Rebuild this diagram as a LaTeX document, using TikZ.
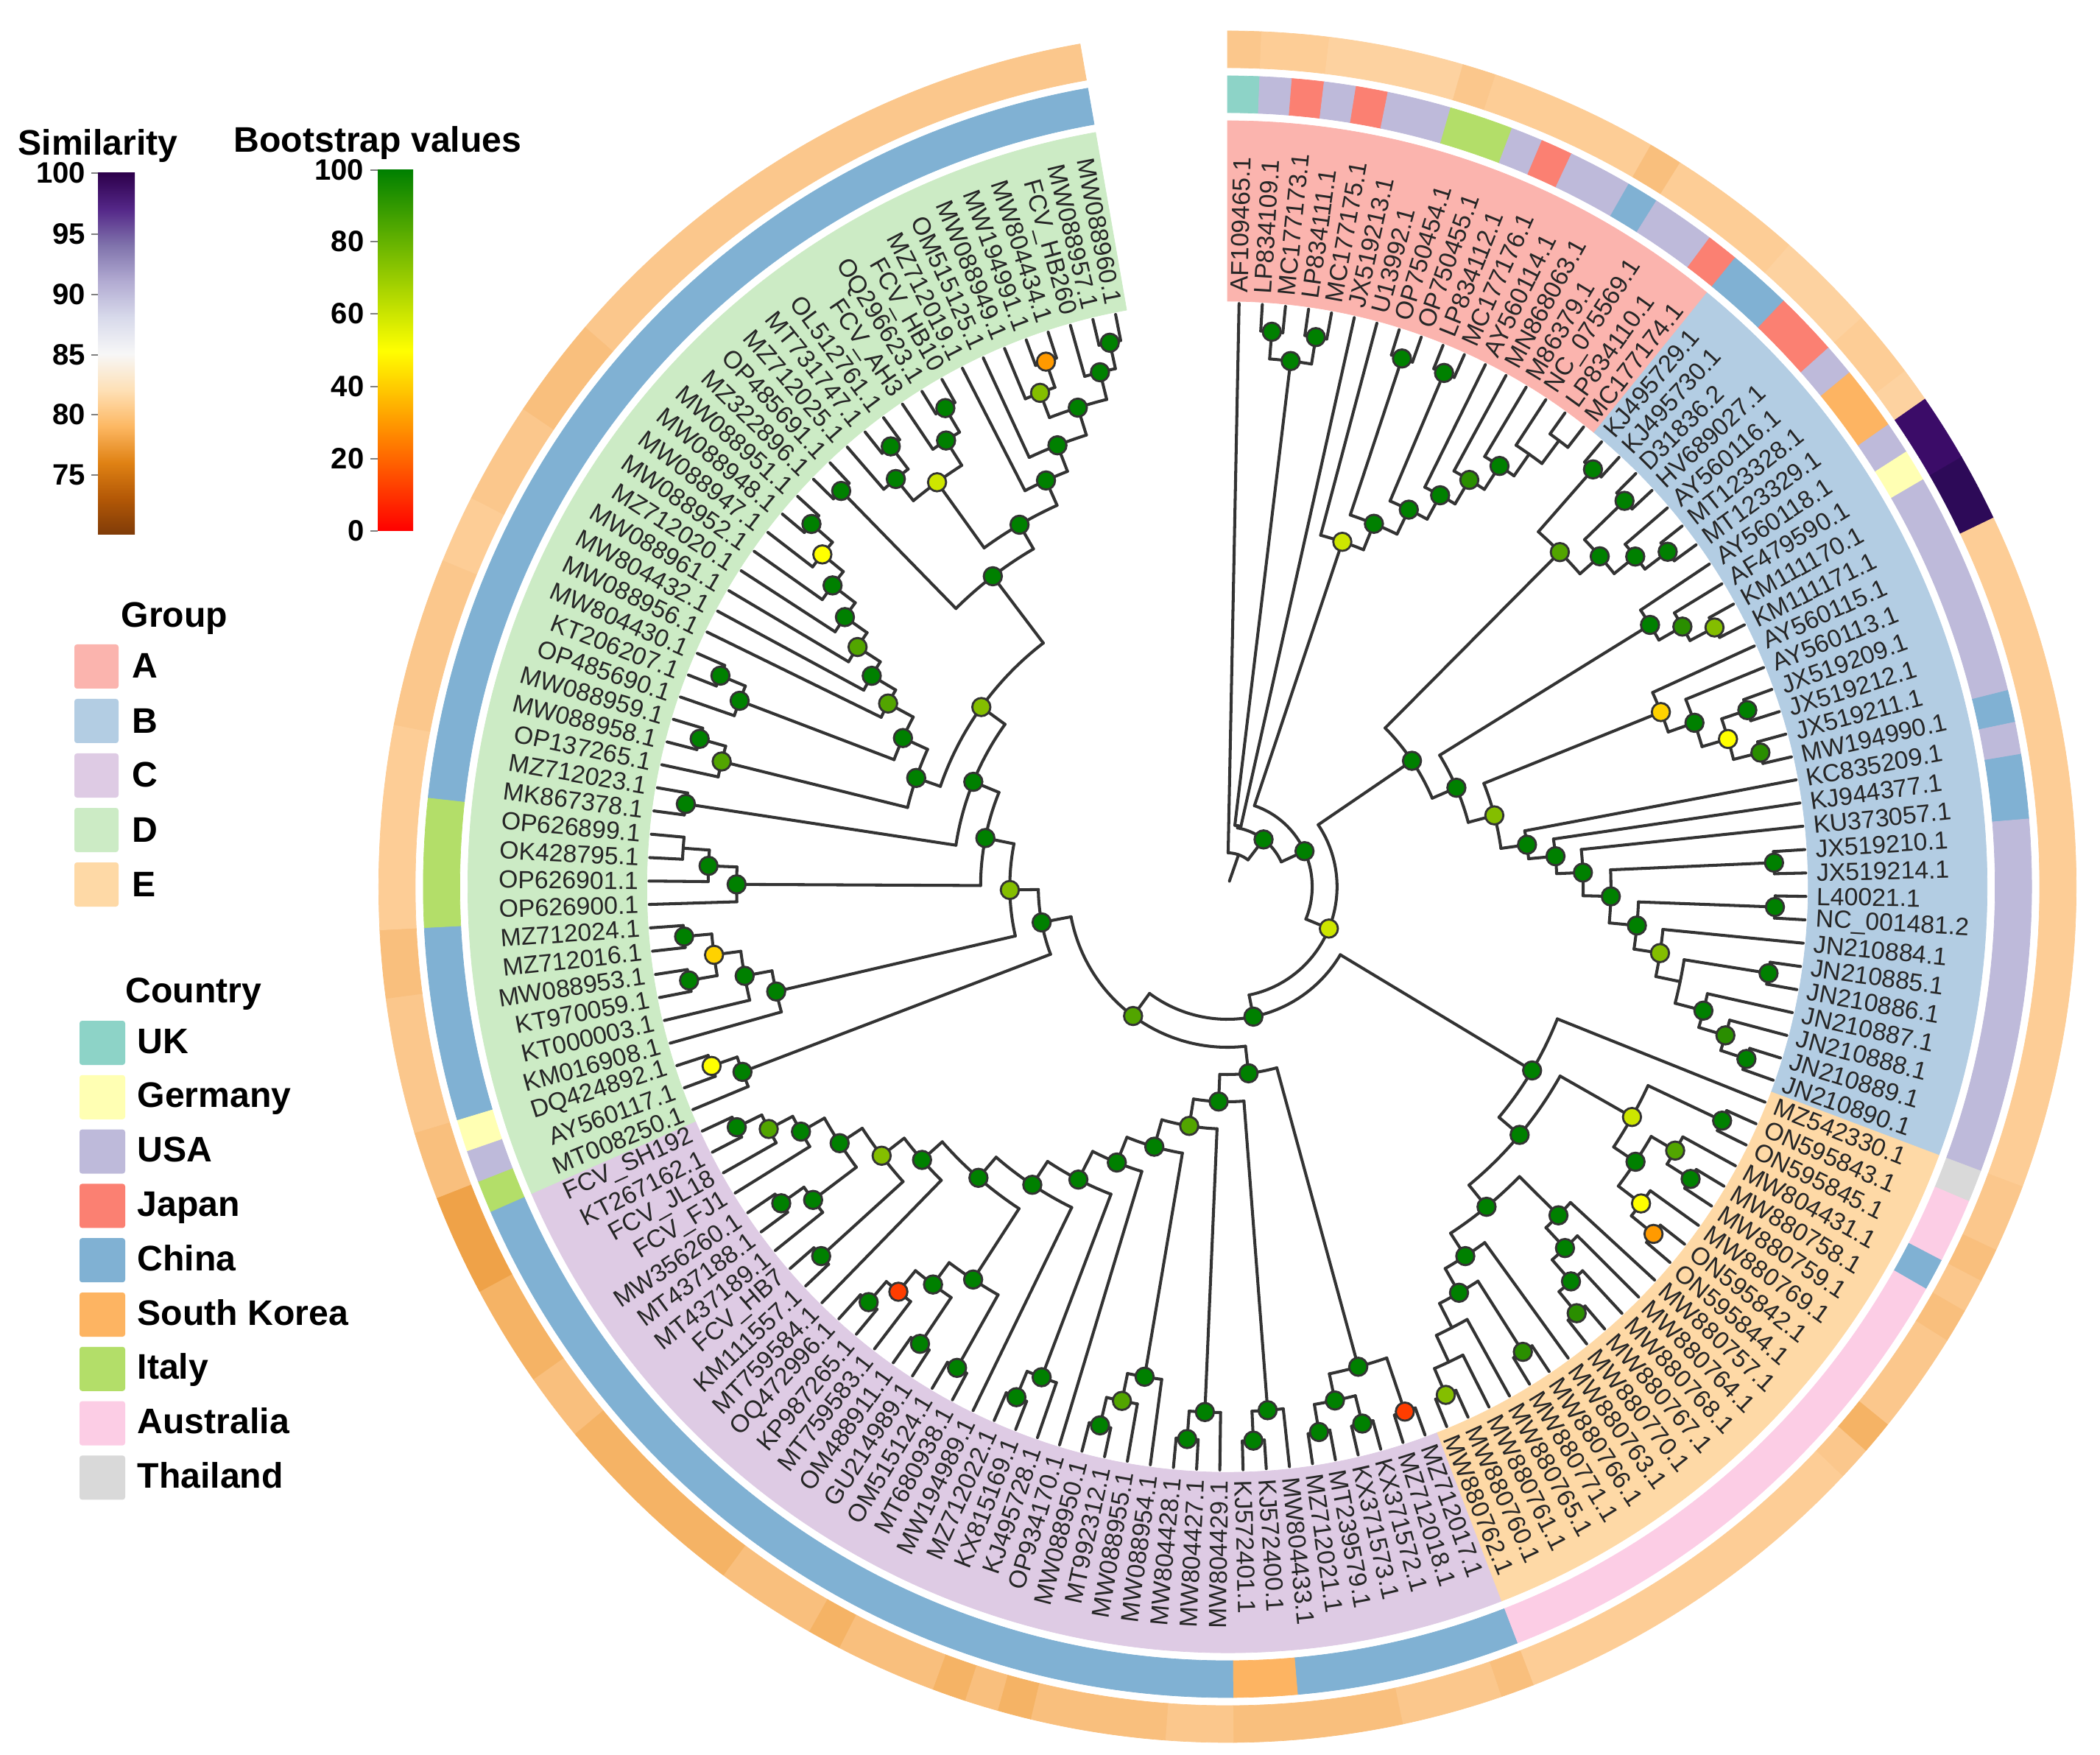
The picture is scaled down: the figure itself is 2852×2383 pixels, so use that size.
\documentclass[tikz,border=0pt]{standalone}
\usepackage{fontspec}
\setmainfont{Liberation Sans}
\usetikzlibrary{backgrounds}

\definecolor{grpa}{HTML}{FBB4AE}
\definecolor{grpb}{HTML}{B3CDE3}
\definecolor{grpc}{HTML}{DECBE4}
\definecolor{grpd}{HTML}{CCEBC5}
\definecolor{grpe}{HTML}{FED9A6}
\definecolor{uk}{HTML}{8DD3C7}
\definecolor{de}{HTML}{FFFFB3}
\definecolor{usa}{HTML}{BEBADA}
\definecolor{jp}{HTML}{FB8072}
\definecolor{cn}{HTML}{80B1D3}
\definecolor{kr}{HTML}{FDB462}
\definecolor{it}{HTML}{B3DE69}
\definecolor{au}{HTML}{FCCDE5}
\definecolor{th}{HTML}{D9D9D9}
\definecolor{sa}{HTML}{FDD2A0}
\definecolor{sb}{HTML}{FDCD96}
\definecolor{sc}{HTML}{FBC78C}
\definecolor{sd}{HTML}{F9BF7D}
\definecolor{se}{HTML}{F5B365}
\definecolor{sf}{HTML}{EFA248}
\definecolor{pa}{HTML}{3B0C68}
\definecolor{pb}{HTML}{2D0A58}
\definecolor{col0}{HTML}{008000}
\definecolor{col1}{HTML}{2A8E00}
\definecolor{col2}{HTML}{52A500}
\definecolor{col3}{HTML}{84BE00}
\definecolor{col4}{HTML}{CDE600}
\definecolor{colyel}{HTML}{FFFF00}
\definecolor{colamb}{HTML}{FFD200}
\definecolor{colorn}{HTML}{FF9A00}
\definecolor{colred}{HTML}{FF3D00}
\definecolor{barred}{HTML}{FF0000}
\definecolor{edgecol}{HTML}{333333}
\definecolor{p1}{HTML}{7F3B08}
\definecolor{p2}{HTML}{B35806}
\definecolor{p3}{HTML}{E08214}
\definecolor{p4}{HTML}{FDB863}
\definecolor{p5}{HTML}{FEE0B6}
\definecolor{p6}{HTML}{F7F7F7}
\definecolor{p7}{HTML}{D8DAEB}
\definecolor{p8}{HTML}{B2ABD2}
\definecolor{p9}{HTML}{8073AC}
\definecolor{p10}{HTML}{542788}
\definecolor{p11}{HTML}{2D004B}

\pgfdeclareverticalshading{simbar}{100bp}{color(0bp)=(p1);
  color(25bp)=(p1); color(30bp)=(p2); color(35bp)=(p3); color(40bp)=(p4); color(45bp)=(p5);
  color(50bp)=(p6); color(55bp)=(p7); color(60bp)=(p8); color(65bp)=(p9); color(70bp)=(p10);
  color(75bp)=(p11); color(100bp)=(p11)}

\newcommand{\stepang}{2.30263}
\newcommand{\ringseg}[5]{%
  \pgfmathsetmacro\sega{90-#1*\stepang}%
  \pgfmathsetmacro\segb{90-#2*\stepang}%
  \fill[fill=#5,draw=#5,line width=0.2pt] (\sega:#3) arc[start angle=\sega,end angle=\segb,radius=#3*0.01cm]
    -- (\segb:#4) arc[start angle=\segb,end angle=\sega,radius=#4*0.01cm] -- cycle;}

\tikzset{
  branch/.style={draw=edgecol,line width=1.15pt,line cap=round},
  boot/.style={circle,draw=edgecol,line width=0.8pt,inner sep=0pt,minimum size=7pt,fill=#1},
  bt0/.style={boot=col0}, bt1/.style={boot=col1}, bt2/.style={boot=col2},
  bt3/.style={boot=col3}, bt4/.style={boot=col4}, yel/.style={boot=colyel},
  amb/.style={boot=colamb}, orn/.style={boot=colorn}, rdd/.style={boot=colred},
  hid/.style={coordinate},
  leaflab/.style={inner sep=0pt,text=black!85,font=\fontsize{9.6}{11}\selectfont},
  legtitle/.style={inner sep=0pt,font=\fontsize{13.7}{16}\bfseries\selectfont},
  legitem/.style={inner sep=0pt,anchor=base west,font=\fontsize{13.7}{16}\bfseries\selectfont},
  ticklab/.style={inner sep=0pt,anchor=east,font=\fontsize{11.4}{13}\bfseries\selectfont},
  swatch/.style={rounded corners=1pt},
  barbit/.style={draw=black!50,line width=0.6pt}
}

% tree: leaf text / radius of the parent arc
\newcommand{\leaflist}{AF109465.1/46,LP834109.1/756,MC177173.1/756,LP834111.1/756,MC177175.1/756,
JX519213.1/84,U13992.1/494,OP750454.1/756,OP750455.1/756,LP834112.1/758,MC177176.1/758,AY560114.1/606,
MN868063.1/644,M86379.1/682,NC\_075569.1/718,LP834110.1/757,MC177174.1/757,
KJ495729.1/756,KJ495730.1/756,D31836.2/755,HV689027.1/755,AY560116.1/716,MT123328.1/755,MT123329.1/755,
AY560118.1/679,AF479590.1/716,KM111170.1/754,KM111171.1/754,AY560115.1/639,AY560113.1/677,JX519209.1/751,
JX519212.1/751,JX519211.1/752,MW194990.1/752,KC835209.1/414,KJ944377.1/451,KU373057.1/487,JX519210.1/749,
JX519214.1/749,L40021.1/750,NC\_001481.2/750,JN210884.1/599,JN210885.1/750,JN210886.1/750,JN210887.1/673,
JN210888.1/711,JN210889.1/748,JN210890.1/748,
MZ542330.1/486,ON595843.1/748,ON595845.1/748,MW804431.1/710,MW880758.1/748,MW880759.1/748,MW880769.1/711,
ON595842.1/750,ON595844.1/750,MW880757.1/636,MW880764.1/674,MW880768.1/713,MW880767.1/751,MW880770.1/751,
MW880763.1/598,MW880766.1/750,MW880771.1/750,MW880765.1/673,MW880761.1/713,MW880760.1/752,MW880762.1/752,
MZ712017.1/753,MZ712018.1/753,KX371572.1/752,KX371573.1/752,MT239579.1/751,MZ712021.1/751,MW804433.1/713,
KJ572400.1/753,KJ572401.1/753,MW804429.1/714,MW804427.1/752,MW804428.1/752,MW088954.1/675,MW088955.1/713,
MT992312.1/752,MW088950.1/752,OP934170.1/404,KJ495728.1/713,KX815169.1/751,MZ712022.1/751,MW194989.1/485,
MT680938.1/751,OM515124.1/751,GU214989.1/750,OM488911.1/750,MT759583.1/711,KP987265.1/748,OQ472996.1/748,
MT759584.1/559,KM111557.1/749,FCV\_HB7/749,MT437189.1/709,MT437188.1/747,MW356260.1/747,FCV\_FJ1/672,
FCV\_JL18/709,KT267162.1/747,FCV\_SH192/747,
MT008250.1/710,AY560117.1/747,DQ424892.1/747,KM016908.1/634,KT000003.1/672,KT970059.1/748,MW088953.1/748,
MZ712016.1/747,MZ712024.1/747,OP626900.1/672,OP626901.1/711,OK428795.1/747,OP626899.1/747,MK867378.1/750,
MZ712023.1/750,OP137265.1/713,MW088958.1/750,MW088959.1/750,OP485690.1/714,KT206207.1/751,MW804430.1/751,
MW088956.1/527,MW804432.1/565,MW088961.1/602,MZ712020.1/639,MW088952.1/678,MW088947.1/715,MW088948.1/753,
MW088951.1/753,MZ322896.1/754,OP485691.1/754,MZ712025.1/716,MT731747.1/755,OL512761.1/755,FCV\_AH3/718,
OQ296623.1/756,FCV\_HB10/756,MZ712019.1/605,OM515125.1/643,MW088949.1/718,MW194991.1/755,MW804434.1/755,
FCV\_HB260/720,MW088957.1/756,MW088960.1/756}

% tree: name / radius / parent radius / first child / last child / look
\newcommand{\cladelist}{u0/46/8/0/15.8/hid,u1/81/46/3.75/27.9/bt0,u2/116/81/7.56/48.25/bt0,
u3/150/116/23.78/72.73/bt4,u4/305/150/19.06/28.5/bt0,u5/180/150/52/93.46/bt0,u6/486/180/48/56/bt0,
u7/218/180/74.85/112.07/bt2,u8/255/218/71/78.7/bt0,u9/259/218/107.75/116.39/bt0,
a1/756/719/1/2/bt0,a2/756/719/3/4/bt0,a3/719/84/1.5/3.5/bt0,a4/84/81/2.5/5/hid,a5/494/116/6/9.12/bt4,
a6/532/494/7.5/10.73/bt0,a7/756/532/7/8/bt0,a8/569/532/9.5/11.97/bt0,a9/758/569/9/10/bt0,
a10/606/569/11/12.94/bt0,a11/644/606/12/13.875/bt1,a12/682/644/13/14.75/bt0,a13/718/682/14/15.5/hid,
a14/757/718/15/16/hid,
b1/643/305/17.5/20.625/bt2,b2/341/305/24.875/32.14/bt0,b3/756/643/17/18/bt0,b4/679/643/19.5/21.75/bt0,
b5/755/679/19/20/bt0,b6/716/679/21/22.5/bt0,b7/755/716/22/23/bt0,b8/679/341/24/25.75/bt0,
b9/716/679/25/26.5/bt1,b10/754/716/26/27/bt3,b11/639/378/28/30.25/amb,b12/677/639/29/31.5/bt0,
b13/714/677/30.5/32.5/yel,b14/751/714/30/31/bt0,b15/752/714/32/33/bt1,b16/378/341/29.125/35.15/bt3,
b17/414/378/34/36.3/bt0,b18/451/414/35/37.6/bt0,b19/487/451/36/39.21/bt0,b20/525/487/37.5/40.92/bt0,
b21/749/525/37/38/bt0,b22/563/525/39.5/42.34/bt0,b23/750/563/39/40/bt0,b24/599/563/41/43.69/bt3,
b25/633/599/42.5/44.875/hid,b26/750/633/42/43/bt0,b27/673/633/44/45.75/bt0,b28/711/673/45/46.5/bt1,
b29/748/711/46/47/bt0,
e2/636/523/49.5/53.25/bt4,e3/748/636/49/50/bt0,e4/672/636/51.75/54.75/bt0,e5/710/672/51/52.5/bt2,
e6/711/672/54/55.5/yel,e7/748/710/52/53/bt0,e8/750/711/55/56/orn,e9/636/561/57/58.875/bt0,
e10/674/636/58/59.75/bt0,e11/713/674/59/60.5/bt0,e12/751/713/60/61/bt1,e13/598/561/62/64.69/bt0,
e14/636/598/63.5/65.875/bt0,e15/750/636/63/64/bt1,e16/673/636/65/66.75/hid,e17/713/673/66/67.5/hid,
e18/752/713/67/68/bt3,e19/561/523/57.94/63.34/bt0,e20/523/486/51.375/60.64/bt0,
c0/676/255/69.5/72.5/bt0,c1/753/676/69/70/rdd,c2/713/676/71.5/73.5/bt0,c3/752/713/71/72/bt0,
c4/751/713/73/74/bt0,c5/753/713/76/77/bt0,c6/713/292/75/76.5/bt0,c7/752/714/79/80/bt0,c8/714/329/78/79.5/bt0,
c9/752/713/83/84/bt0,c10/713/675/82/83.5/bt2,c11/675/367/81/82.75/bt0,c12/751/713/87/88/bt0,
c13/713/447/86/87.5/bt0,c14/751/637/90/91/bt0,c15/750/674/92/93/bt0,c16/748/711/95/96/bt0,
c17/711/674/94/95.5/rdd,c18/674/637/92.5/94.75/bt0,c19/637/522/90.5/93.625/bt0,c20/749/598/98/99/bt0,
c21/747/709/101/102/bt0,c22/709/635/100/101.5/bt0,c23/747/709/105/106/bt0,c24/709/672/104/105.5/bt2,
c25/672/635/103/104.75/bt0,c26/635/598/100.75/103.875/bt0,c27/598/559/98.5/102.31/bt3,c28/559/522/97/100.4/bt0,
c29/522/485/92.06/98.7/bt0,c30/485/447/89/95.38/bt0,c31/447/404/86.75/92.19/bt0,c32/404/367/85/89.47/bt0,
c33/367/329/81.875/87.23/bt0,c34/329/292/78.75/84.55/bt2,c35/292/255/75.75/81.65/bt0,
d1/747/710/108/109/yel,d2/710/259/107/108.5/bt0,d3/748/709/112/113/bt0,d4/747/709/114/115/bt0,
d5/709/672/112.5/114.5/amb,d6/672/634/111/113.5/bt0,d7/634/298/110/112.25/bt0,d8/747/711/118/119/hid,
d9/711/672/117/118.5/bt0,d10/672/338/116/117.75/bt0,d11/750/376/120/121/bt0,d12/750/713/123/124/bt0,
d13/713/451/122/123.5/bt2,d14/751/714/126/127/bt0,d15/714/488/125/126.5/bt0,d17/753/715/134/135/bt0,
d18/715/678/133/134.5/yel,d19/678/639/132/133.75/bt0,d20/639/602/131/132.875/bt0,d21/602/565/130/131.94/bt2,
d22/565/527/129/130.97/bt0,d23/527/488/128/129.98/bt2,d24/488/451/125.75/128.99/bt0,d25/451/416/122.75/127.37/bt0,
d26/416/376/125.06/139.64/bt3,d27/754/530/136/137/bt0,d28/755/716/139/140/bt0,d29/716/678/138/139.5/bt0,
d30/756/718/142/143/bt0,d31/718/678/141/142.5/bt0,d32/678/568/138.75/141.75/bt4,d33/755/718/147/148/orn,
d34/718/682/146/147.5/bt3,d35/756/720/150/151/bt0,d36/720/682/149/150.5/bt0,d37/682/643/146.75/149.75/bt0,
d38/643/605/145/148.25/bt0,d39/605/568/144/146.625/bt0,d40/568/530/140.25/145.31/bt0,d41/530/416/136.5/142.78/bt0,
d42/376/338/120.5/132.35/bt0,d43/338/298/116.875/126.43/bt0,d44/298/259/111.125/121.65/bt3}

\begin{document}
\begin{tikzpicture}[x=0.01cm,y=0.01cm]
  \useasboundingbox (0,0) rectangle (2852,-2383);

  \begin{scope}[shift={(1667,-1204)},xscale=0.992]
    % group sectors
    \foreach \sa/\sb/\col in {0/17/grpa,17/48/grpb,48/69/grpe,69/107/grpc,107/152/grpd}
      {\ringseg{\sa}{\sb}{795}{1040}{\col}}

    % country ring
    \foreach \sa/\sb/\col in {0/1/uk,1/2/usa,2/3/jp,3/4/usa,4/5/jp,5/7/usa,7/9/it,9/10/usa,10/11/jp,11/13/usa,
      13/14/cn,14/16/usa,16/17/jp,17/19/cn,19/21/jp,21/22/usa,22/24/kr,24/25/usa,25/26/de,26/33/usa,33/34/cn,
      34/35/usa,35/37/cn,37/48/usa,48/49/th,49/51/au,51/52/cn,52/69/au,69/76/cn,76/78/kr,78/107/cn,107/108/it,
      108/109/usa,109/110/de,110/116/cn,116/120/it,120/152/cn}
      {\ringseg{\sa}{\sb}{1051}{1101}{\col}}

    % similarity ring
    \foreach \sa/\sb/\col in {0/1/sc,1/3/sb,3/7/sa,7/8/sc,8/13/sb,13/14/sd,14/18/sb,18/21/sa,21/23/sb,23/24/sa,
      24/26/pa,26/28/pb,28/48/sb,48/50/sc,50/51/sd,51/52/sc,52/53/sd,53/56/sc,56/57/se,57/58/sc,58/69/sb,
      69/70/sd,70/73/sc,73/78/sd,78/80/sc,80/84/sd,84/85/se,85/86/sd,86/87/se,87/90/sd,90/91/se,
      91/94/sd,94/100/se,100/102/sd,102/105/se,105/108/sf,108/110/sd,110/114/sc,114/116/sd,116/122/sb,
      122/127/sc,127/129/sb,129/132/sc,132/135/sd,135/152/sc}
      {\ringseg{\sa}{\sb}{1112}{1162}{\col}}

    % inner nodes
    \foreach \nm/\rad/\prad/\pa/\pb/\sty in \cladelist {
      \pgfmathsetmacro\amid{90-((\pa+\pb)/2+0.5)*\stepang}
      \node[\sty] (\nm) at (\amid:\rad) {};
    }

    % leaf texts
    \foreach \lab/\prad [count=\i from 0] in \leaflist {
      \pgfmathsetmacro\thet{(\i+0.5)*\stepang}
      \pgfmathsetmacro\ang{90-\thet}
      \ifdim\thet pt<180pt
        \node[leaflab,anchor=west,rotate=\ang] (lf\i) at (\ang:806) {\lab};
      \else
        \node[leaflab,anchor=east,rotate=\ang+180] (lf\i) at (\ang:806) {\lab};
      \fi
      \coordinate (tp\i) at (\ang:792);
    }

    % arcs and branches go under the nodes
    \begin{pgfonlayer}{background}
      \foreach \nm/\rad/\prad/\pa/\pb/\sty in \cladelist {
        \pgfmathsetmacro\alo{90-(\pa+0.5)*\stepang}
        \pgfmathsetmacro\ahi{90-(\pb+0.5)*\stepang}
        \pgfmathsetmacro\amid{(\alo+\ahi)/2}
        \draw[branch] (\alo:\rad) arc[start angle=\alo,end angle=\ahi,radius=\rad*0.01cm];
        \draw[branch] (\nm) -- (\amid:\prad);
      }
      \foreach \lab/\prad [count=\i from 0] in \leaflist {
        \pgfmathsetmacro\ang{90-(\i+0.5)*\stepang}
        \draw[branch] (tp\i) -- (\ang:\prad);
      }
    \end{pgfonlayer}
  \end{scope}

  % similarity scale
  \node[legtitle] (simtitle) at (133,-198) {Similarity};
  \shade[shading=simbar] (133,-235) rectangle (183,-726);
  \foreach \val/\ypos in {100/235,95/318,90/400,85/482,80/563,75/645} {
    \draw[barbit] (124,-\ypos) -- (133,-\ypos);
    \node[ticklab] (sim\val) at (117,-\ypos) {\val};
  }

  % bootstrap scale
  \node[legtitle] (boottitle) at (513,-194) {Bootstrap values};
  \shade[top color=col0,bottom color=barred,middle color=colyel] (513,-231) rectangle (561,-721);
  \foreach \val/\ypos in {100/231,80/328,60/426,40/525,20/623,0/721} {
    \draw[barbit] (503,-\ypos) -- (513,-\ypos);
    \node[ticklab] (boot\val) at (495,-\ypos) {\val};
  }

  % group legend
  \node[legtitle] (grouptitle) at (237,-840) {Group};
  \foreach \lab/\col [count=\i from 0] in {A/grpa,B/grpb,C/grpc,D/grpd,E/grpe} {
    \pgfmathsetmacro\ypos{875+74*\i}
    \fill[swatch,\col] (101,-\ypos) rectangle (161,-\ypos-60);
    \node[legitem] (grp\lab) at (179,-\ypos-46) {\lab};
  }

  % country legend
  \node[legtitle] (countrytitle) at (263,-1350) {Country};
  \foreach \lab/\col [count=\i from 0] in {UK/uk,Germany/de,USA/usa,Japan/jp,China/cn,South Korea/kr,Italy/it,Australia/au,Thailand/th} {
    \pgfmathsetmacro\ypos{1386+73.8*\i}
    \fill[swatch,\col] (108,-\ypos) rectangle (170,-\ypos-60);
    \node[legitem] (ctry\i) at (186,-\ypos-44) {\lab};
  }
\end{tikzpicture}
\end{document}
